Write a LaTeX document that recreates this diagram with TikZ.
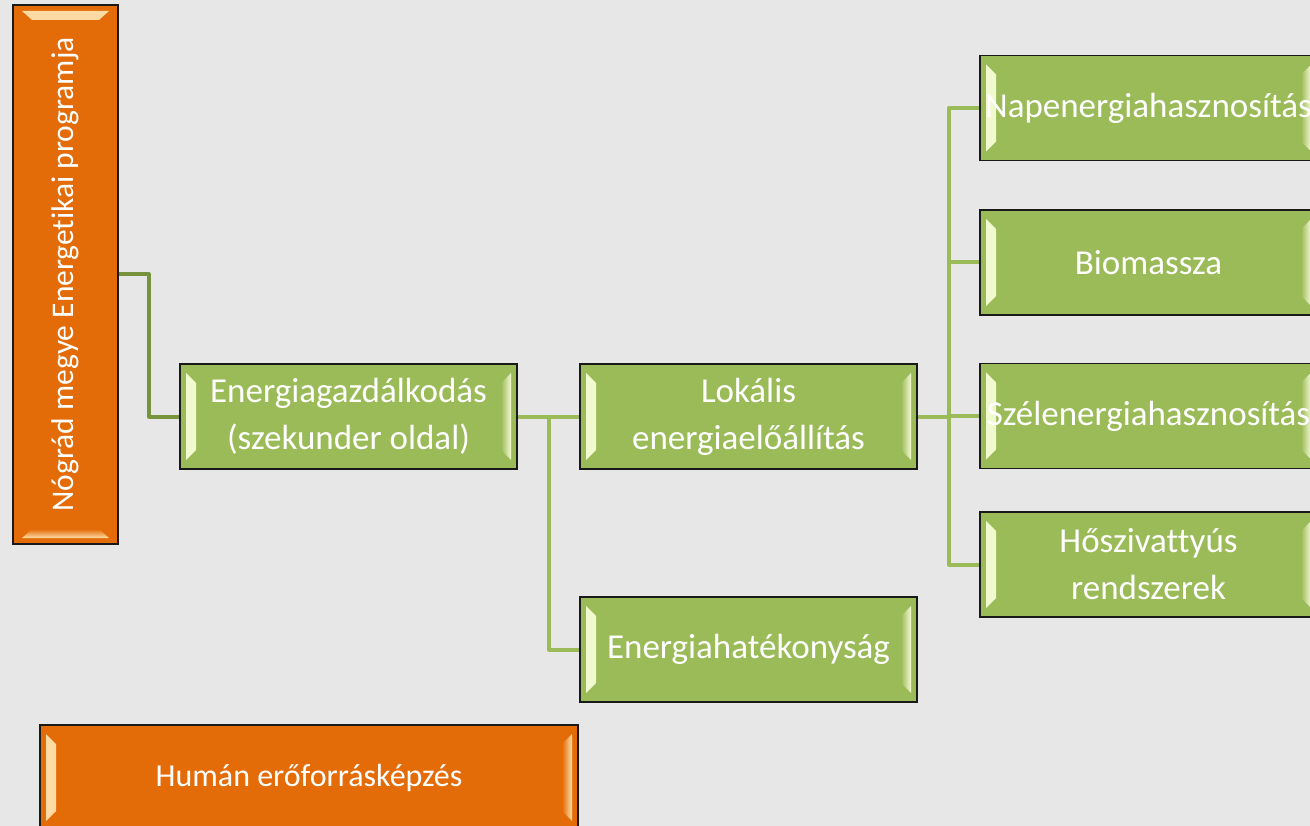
\documentclass[tikz,border=0pt]{standalone}
\usepackage{fontspec}
\setmainfont{Carlito}[Ligatures={NoCommon}]
\usetikzlibrary{calc}
\definecolor{bg}{HTML}{E7E7E7}
\definecolor{gfill}{HTML}{9BBB59}
\definecolor{glight}{HTML}{F4FBD2}
\definecolor{ofill}{HTML}{E36C09}
\definecolor{olight}{HTML}{FDDDA6}
\definecolor{conndark}{HTML}{77933C}
\tikzset{
  box/.style={draw=black!90, line width=1.6pt, inner sep=0pt, align=center,
    text=white, font=\fontsize{35}{47}\selectfont},
  bevLR/.style 2 args={path picture={
    \shade[left color=#1,right color=#2]
      ($(path picture bounding box.north west)+(6pt,-9pt)$) --
      ($(path picture bounding box.north west)+(16pt,-19pt)$) --
      ($(path picture bounding box.south west)+(16pt,19pt)$) --
      ($(path picture bounding box.south west)+(6pt,9pt)$) -- cycle;
    \shade[left color=#2,right color=#1]
      ($(path picture bounding box.north east)+(-6pt,-9pt)$) --
      ($(path picture bounding box.north east)+(-16pt,-19pt)$) --
      ($(path picture bounding box.south east)+(-16pt,19pt)$) --
      ($(path picture bounding box.south east)+(-6pt,9pt)$) -- cycle;
  }},
  bevTB/.style 2 args={path picture={
    \shade[top color=#1,bottom color=#2]
      ($(path picture bounding box.north west)+(9pt,-6pt)$) --
      ($(path picture bounding box.north east)+(-9pt,-6pt)$) --
      ($(path picture bounding box.north east)+(-19pt,-15pt)$) --
      ($(path picture bounding box.north west)+(19pt,-15pt)$) -- cycle;
    \shade[top color=#2,bottom color=#1]
      ($(path picture bounding box.south west)+(9pt,6pt)$) --
      ($(path picture bounding box.south east)+(-9pt,6pt)$) --
      ($(path picture bounding box.south east)+(-19pt,15pt)$) --
      ($(path picture bounding box.south west)+(19pt,15pt)$) -- cycle;
  }},
  gbox/.style={box, fill=gfill, minimum width=337pt, minimum height=105pt, bevLR={glight}{gfill}},
  obox/.style={box, fill=ofill},
  conn/.style={draw=gfill, line width=4pt, line join=round},
  conn1/.style={draw=conndark, line width=4pt, line join=round},
}
\begin{document}
\begin{tikzpicture}[x=1pt,y=-1pt]
\useasboundingbox (0,0) rectangle (1310,826);
\fill[bg] (0,0) rectangle (1310,826);

\node[obox, minimum width=105pt, minimum height=539pt, bevTB={olight}{ofill},
  font=\fontsize{31.5}{40}\selectfont] (prog) at (65.5,274.5)
  {\rotatebox{90}{Nógrád megye Energetikai programja}};
\node[gbox] (eg) at (348.5,416.5) {Energiagazdálkodás\\(szekunder oldal)};
\node[gbox] (lok) at (748.5,416.5) {Lokális\\energiaelőállítás};
\node[gbox] (eh) at (748.5,649.5) {Energiahatékonyság};
\node[gbox] (nap) at (1148.5,108) {Napenergiahasznosítás};
\node[gbox] (bio) at (1148.5,262.5) {Biomassza};
\node[gbox] (szel) at (1148.5,416) {Szélenergiahasznosítás};
\node[gbox] (hosz) at (1148.5,564.5) {Hőszivattyús\\rendszerek};
\node[obox, minimum width=538pt, minimum height=105pt, bevLR={olight}{ofill},
  font=\fontsize{32}{40}\selectfont] (hum) at (309,777.5) {Humán erőforrásképzés};

\draw[conn1] (prog.east) -- ++(30,0) |- (eg.west);
\draw[conn] (eg.east) -- (lok.west);
\draw[conn] (eg.east) -- ++(31,0) |- (eh.west);
\draw[conn] (lok.east) -- ++(31,0) |- (nap.west);
\draw[conn] (lok.east) -- ++(31,0) |- (bio.west);
\draw[conn] (lok.east) -- ++(31,0) |- (szel.west);
\draw[conn] (lok.east) -- ++(31,0) |- (hosz.west);
\end{tikzpicture}
\end{document}
